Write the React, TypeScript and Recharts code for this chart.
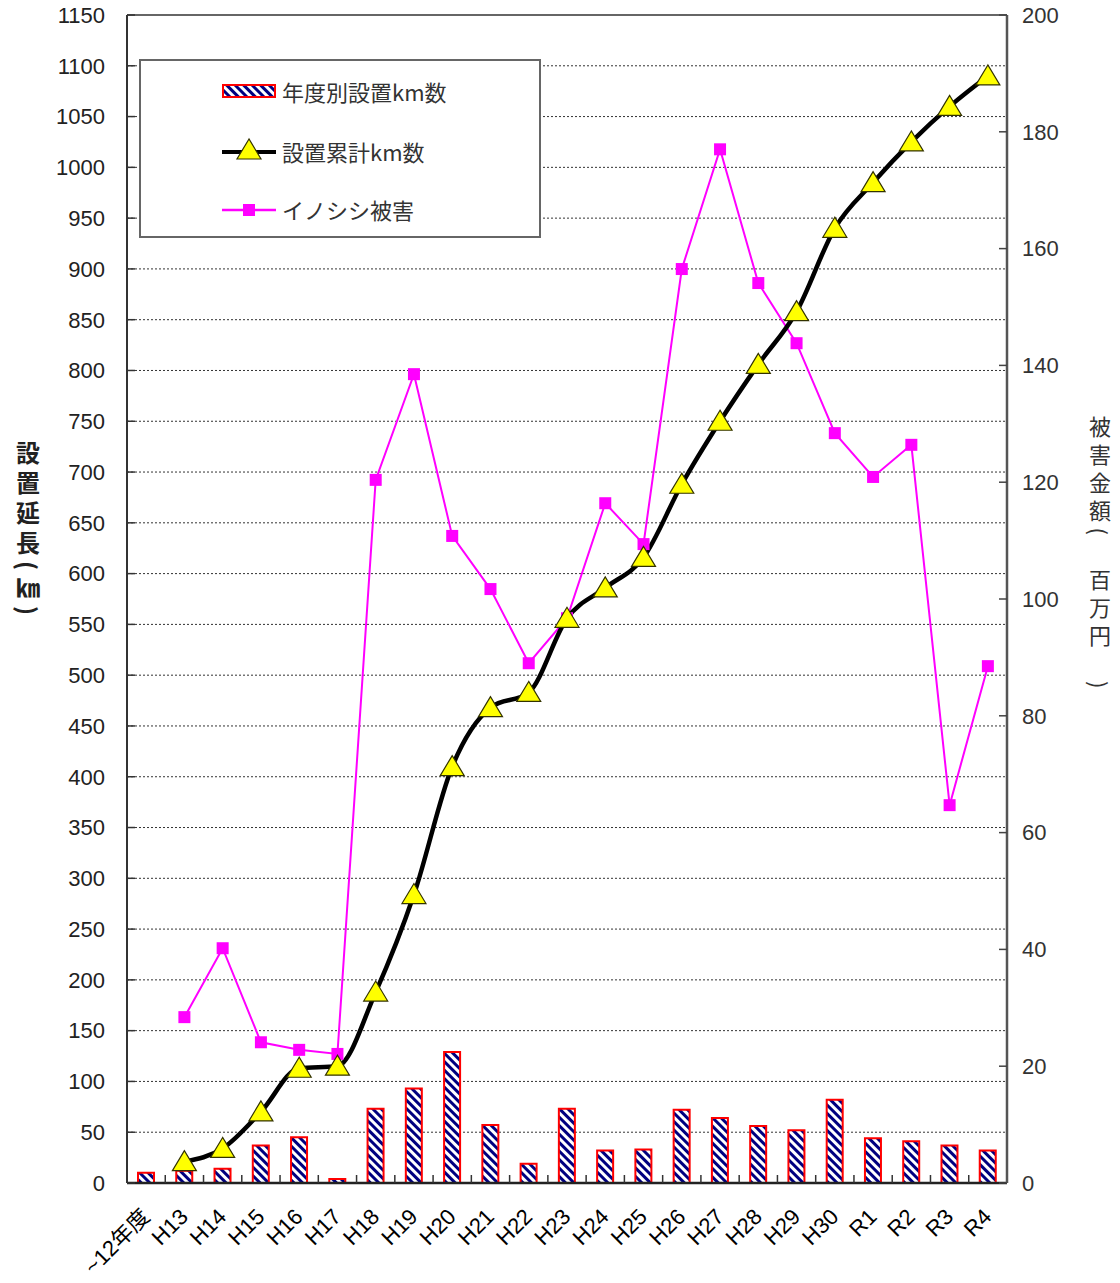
import React from 'react';
import {
  ComposedChart, Bar, Line, XAxis, YAxis, CartesianGrid, Legend, ReferenceLine,
} from 'recharts';

const categories = ['~12年度', 'H13', 'H14', 'H15', 'H16', 'H17', 'H18', 'H19', 'H20', 'H21', 'H22', 'H23', 'H24', 'H25', 'H26', 'H27', 'H28', 'H29', 'H30', 'R1', 'R2', 'R3', 'R4'];
const annualKm = [10, 12, 14, 37, 45, 4, 73, 93, 129, 57, 19, 73, 32, 33, 72, 64, 56, 52, 82, 44, 41, 37, 32];
const cumulativeKm = [null, 21, 34, 70, 113, 115, 188, 284, 410, 468, 483, 556, 586, 616, 688, 750, 806, 858, 940, 985, 1025, 1060, 1090];
const damage = [null, 28.4, 40.2, 24.1, 22.8, 22.1, 120.4, 138.5, 110.8, 101.7, 89.0, 96.7, 116.4, 109.4, 156.5, 177.0, 154.1, 143.8, 128.4, 120.9, 126.4, 64.7, 88.5];
const leftTicks = [0, 50, 100, 150, 200, 250, 300, 350, 400, 450, 500, 550, 600, 650, 700, 750, 800, 850, 900, 950, 1000, 1050, 1100, 1150];
const rightTicks = [0, 20, 40, 60, 80, 100, 120, 140, 160, 180, 200];

const seriesNames = { annual: '年度別設置km数', cumulative: '設置累計km数', damage: 'イノシシ被害' };

const data = categories.map((c, i) => ({
  name: c,
  annual: annualKm[i],
  cumulative: cumulativeKm[i],
  damage: damage[i],
}));

const FONT = '"Liberation Sans", Arial, "Noto Sans CJK JP", sans-serif';
const JFONT = '"Noto Sans CJK JP", "Liberation Sans", sans-serif';

const Triangle = (props: any) => {
  const { cx, cy } = props;
  if (cx == null || cy == null || props.value == null) return <g />;
  return (
    <polygon
      points={`${cx},${cy - 11} ${cx - 12},${cy + 9} ${cx + 12},${cy + 9}`}
      fill="#FFFF00"
      stroke="#333300"
      strokeWidth={1.2}
    />
  );
};

const Square = (props: any) => {
  const { cx, cy } = props;
  if (cx == null || cy == null || props.value == null) return <g />;
  return <rect x={cx - 6} y={cy - 6} width={12} height={12} fill="#FF00FF" />;
};

const XTick = (props: any) => {
  const { x, y, payload } = props;
  const off = payload && payload.offset != null ? payload.offset : 0;
  const axisY = y - 2;
  return (
    <g>
      {payload.index > 0 && (
        <line x1={x - off} x2={x - off} y1={axisY} y2={axisY - 8} stroke="#333" strokeWidth={1.5} />
      )}
      <text
        x={x + 5}
        y={y + 33}
        transform={`rotate(-45, ${x + 5}, ${y + 33})`}
        textAnchor="end"
        fontSize={22}
        fontFamily={FONT}
        fill="#000"
      >
        {payload.value}
      </text>
    </g>
  );
};

const LegendContent = () => (
  <div
    style={{
      width: 402,
      height: 179,
      boxSizing: 'border-box',
      border: '2px solid #666',
      background: '#fff',
      position: 'relative',
      fontFamily: JFONT,
      fontSize: 22,
      color: '#333',
    }}
  >
    <svg width={402} height={179} style={{ position: 'absolute', left: 0, top: 0 }}>
      <rect x={82} y={24} width={52} height={12} fill="url(#stripes)" stroke="#FF0000" strokeWidth={2} />
      <line x1={81} x2={135} y1={91} y2={91} stroke="#000" strokeWidth={4} />
      <Triangle cx={108} cy={89} value={1} />
      <line x1={81} x2={135} y1={149} y2={149} stroke="#FF00FF" strokeWidth={2.5} />
      <rect x={102} y={143} width={12} height={12} fill="#FF00FF" />
    </svg>
    <div style={{ position: 'absolute', left: 141, top: 14, lineHeight: '32px' }}>{seriesNames.annual}</div>
    <div style={{ position: 'absolute', left: 141, top: 74, lineHeight: '32px' }}>{seriesNames.cumulative}</div>
    <div style={{ position: 'absolute', left: 141, top: 132, lineHeight: '32px' }}>{seriesNames.damage}</div>
  </div>
);

const LeftTitle = () => (
  <text
    x={28}
    y={531}
    textAnchor="middle"
    fontSize={24}
    fontWeight="bold"
    fontFamily={JFONT}
    fill="#222"
    style={{ writingMode: 'vertical-rl', letterSpacing: 6 } as any}
  >
    設置延長(㎞)
  </text>
);

const RightTitle = () => (
  <text
    x={1100}
    y={555}
    textAnchor="middle"
    fontSize={22}
    fontFamily={JFONT}
    fill="#333"
    style={{ writingMode: 'vertical-rl', letterSpacing: 6 } as any}
  >
    被害金額(　百万円　)
  </text>
);

export default function App() {
  return (
    <div style={{ position: 'absolute', left: 0, top: 0, background: '#fff' }}>
      <ComposedChart
        width={1120}
        height={1283}
        data={data}
        margin={{ top: 15, right: 13, bottom: 20, left: 17 }}
        barCategoryGap={0}
      >
        <defs>
          <pattern id="stripes" patternUnits="userSpaceOnUse" width={6} height={6} patternTransform="rotate(-45)">
            <rect x={0} y={0} width={6} height={6} fill="#ffffff" />
            <rect x={0} y={0} width={3} height={6} fill="#000080" />
          </pattern>
        </defs>
        <CartesianGrid vertical={false} stroke="#333" strokeDasharray="2 2" yAxisId="left" />
        <ReferenceLine yAxisId="left" y={1150} stroke="#666" strokeWidth={2} />
        <XAxis
          dataKey="name"
          height={80}
          interval={0}
          tickSize={0}
          tickMargin={2}
          tickLine={false}
          tick={<XTick />}
          axisLine={{ stroke: '#222', strokeWidth: 2.5 }}
        />
        <YAxis
          yAxisId="left"
          width={110}
          domain={[0, 1150]}
          ticks={leftTicks}
          interval={0}
          tickSize={-8}
          tickMargin={30}
          tick={{ fontSize: 22, fill: '#222', fontFamily: FONT }}
          tickLine={{ stroke: '#333', strokeWidth: 1.5 }}
          axisLine={{ stroke: '#333', strokeWidth: 2 }}
          label={<LeftTitle />}
        />
        <YAxis
          yAxisId="right"
          orientation="right"
          width={100}
          domain={[0, 200]}
          ticks={rightTicks}
          interval={0}
          tickSize={-8}
          tickMargin={23}
          tick={{ fontSize: 22, fill: '#333', fontFamily: FONT }}
          tickLine={{ stroke: '#444', strokeWidth: 1.5 }}
          axisLine={{ stroke: '#555', strokeWidth: 2.5 }}
          label={<RightTitle />}
        />
        <Legend
          verticalAlign="middle"
          align="center"
          layout="horizontal"
          content={<LegendContent />}
          wrapperStyle={{ left: 139, top: 59, width: 402, height: 179 }}
        />
        <Bar
          yAxisId="left"
          dataKey="annual"
          name={seriesNames.annual}
          barSize={16}
          fill="url(#stripes)"
          stroke="#FF0000"
          strokeWidth={2}
          isAnimationActive={false}
        />
        <Line
          yAxisId="right"
          dataKey="damage"
          name={seriesNames.damage}
          type="linear"
          stroke="#FF00FF"
          strokeWidth={2}
          dot={<Square />}
          activeDot={false}
          isAnimationActive={false}
        />
        <Line
          yAxisId="left"
          dataKey="cumulative"
          name={seriesNames.cumulative}
          type="monotone"
          stroke="#000"
          strokeWidth={4.5}
          dot={<Triangle />}
          activeDot={false}
          isAnimationActive={false}
        />
      </ComposedChart>
    </div>
  );
}
